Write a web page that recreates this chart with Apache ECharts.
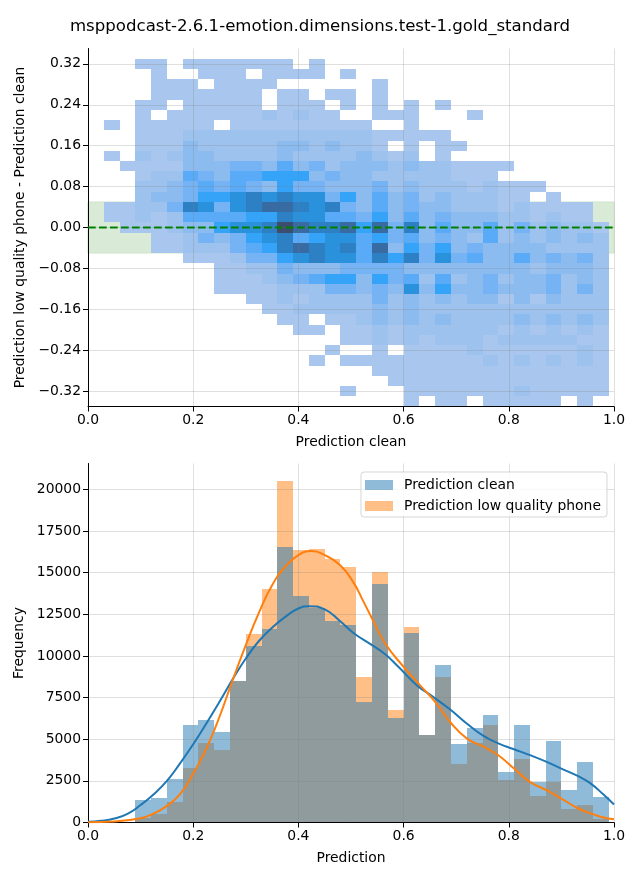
<!DOCTYPE html>
<html><head><meta charset="utf-8">
<script src="https://cdn.jsdelivr.net/npm/echarts@6/dist/echarts.min.js"></script>
<style>html,body{margin:0;padding:0;background:#fff}#c{width:640px;height:880px}</style>
</head><body><div id="c"></div>
<script>
const titleText = 'msppodcast-2.6.1-emotion.dimensions.test-1.gold_standard';
const binWidth = 0.03;
const cellHeight = 0.02;
const toleranceBand = [-0.05, 0.05];
const levelColors = ['', '#a9c7ee','#9ec2ee','#8cbbf0','#75b3f4','#59abf7','#34a3f8','#2a91dd','#2d80c3','#386ba2','#3d4d6d'];
const rowCenters = [0.32,0.30,0.28,0.26,0.24,0.22,0.20,0.18,0.16,0.14,0.12,0.10,0.08,0.06,0.04,0.02,0,-0.02,-0.04,-0.06,-0.08,-0.10,-0.12,-0.14,-0.16,-0.18,-0.20,-0.22,-0.24,-0.26,-0.28,-0.30,-0.32,-0.34];
const densityRows = [
[0,0,0,1,1,0,1,1,1,1,1,1,1,0,1],
[0,0,0,0,1,0,0,1,1,1,0,1,1,1,1,0,1],
[0,0,0,0,1,1,1,0,1,1,1,1,0,0,0,0,0,0,1],
[0,0,0,0,1,1,1,1,1,1,1,0,1,1,0,1,1,0,1],
[0,0,0,1,1,0,1,1,1,1,1,0,1,1,1,0,1,0,1,0,1,0,1],
[0,0,0,1,0,1,1,1,1,1,1,2,1,2,1,1,0,0,1,1,1,0,0,0,1],
[0,1,0,1,1,1,1,1,0,1,1,1,1,1,1,1,1,1,0,0,1],
[0,0,0,1,1,1,2,2,2,2,2,2,2,2,2,2,2,2,1,1,1,1,1],
[0,0,0,1,1,1,3,2,2,2,2,2,3,3,2,3,2,2,1,0,1,0,1,1],
[0,1,0,2,1,2,3,3,2,2,2,2,3,2,2,2,2,3,2,1,2,0,1],
[0,0,1,1,1,1,3,3,3,4,4,3,5,3,4,2,3,3,3,2,3,2,2,1,1,1,1],
[0,0,0,1,2,2,5,4,3,5,5,6,6,6,3,4,3,3,2,2,2,2,2,1,1,1],
[0,0,0,2,2,3,4,5,4,5,4,3,6,4,4,3,3,3,4,2,3,2,2,2,1,2,1,1,1],
[0,0,0,2,3,3,4,6,6,7,8,7,8,7,7,4,6,3,5,3,4,2,3,2,2,2,1,1,0,1],
[0,1,1,2,2,4,8,7,4,7,8,9,9,8,7,8,4,3,5,3,4,3,3,2,2,2,1,2,1,1,1,1],
[0,1,1,2,1,2,5,5,5,5,6,6,8,7,7,5,5,4,6,3,5,3,4,3,3,3,2,2,1,2,1,1],
[0,0,1,1,1,2,3,3,6,7,7,8,10,9,8,8,9,6,9,4,8,3,5,3,3,5,2,4,2,3,2,2,1],
[0,0,0,0,1,1,2,4,3,4,6,7,8,5,6,7,7,5,6,4,5,3,4,3,2,5,2,3,2,3,2,3,2],
[0,0,0,0,1,1,2,2,2,4,5,6,8,9,8,7,8,5,9,3,6,4,6,3,4,3,3,3,3,2,2,2,2],
[0,0,0,0,0,0,1,1,1,2,4,4,6,7,8,7,7,5,8,6,8,4,7,4,5,3,3,5,3,4,3,4,2],
[0,0,0,0,0,0,0,0,1,1,2,2,4,3,3,3,4,4,4,4,3,3,3,3,3,3,3,3,2,3,3,3,2],
[0,0,0,0,0,0,0,0,1,1,1,2,3,4,5,6,6,3,6,4,5,2,5,2,3,4,2,3,3,4,2,3,2],
[0,0,0,0,0,0,0,0,1,1,1,1,2,2,2,4,4,3,4,3,7,3,6,3,3,4,3,3,3,4,2,4,2],
[0,0,0,0,0,0,0,0,0,0,1,1,2,1,2,2,2,2,4,2,3,2,3,2,3,3,1,3,1,3,2,2,2],
[0,0,0,0,0,0,0,0,0,0,0,1,1,2,2,2,2,2,3,2,3,2,2,2,2,2,2,2,2,2,2,2,2],
[0,0,0,0,0,0,0,0,0,0,0,0,1,1,0,1,1,2,3,2,3,2,3,2,2,2,2,3,2,3,2,3,2],
[0,0,0,0,0,0,0,0,0,0,0,0,0,1,1,0,1,1,2,1,2,2,2,2,2,2,1,2,1,2,1,2,1],
[0,0,0,0,0,0,0,0,0,0,0,0,0,0,0,0,1,1,2,1,2,1,2,2,2,1,2,2,2,2,2,1,1],
[0,0,0,0,0,0,0,0,0,0,0,0,0,0,0,1,0,0,1,0,1,1,1,1,2,1,1,1,1,1,1,2,1],
[0,0,0,0,0,0,0,0,0,0,0,0,0,0,1,0,1,1,1,1,1,1,1,1,1,2,1,2,1,2,1,2,1],
[0,0,0,0,0,0,0,0,0,0,0,0,0,0,0,0,0,0,1,1,1,1,1,1,1,1,1,1,1,1,1,1,1],
[0,0,0,0,0,0,0,0,0,0,0,0,0,0,0,0,0,0,0,1,1,1,1,1,1,1,1,1,1,1,1,1,1],
[0,0,0,0,0,0,0,0,0,0,0,0,0,0,0,0,1,0,0,0,1,1,1,1,1,1,1,2,1,1,1,1,1],
[0,0,0,0,0,0,0,0,0,0,0,0,0,0,0,0,0,0,0,0,1,0,1,1,0,1,1,1,1,1,0,1]
];
const cleanCounts = [0,20,40,1340,1460,2600,5850,6150,5430,8490,10590,11610,16540,13590,12870,12090,11850,7230,14310,6270,11370,5240,9450,4700,5670,6450,3020,5850,2420,4880,1940,3620,1520];
const phoneCounts = [0,10,20,300,500,1220,3260,4760,4360,8490,11310,14010,20500,16360,16420,15820,15340,8730,15030,6750,11730,5240,8730,3500,4760,5850,2540,3800,1580,2420,800,1040,200];
const cleanKde = [[0,40],[0.025,100],[0.05,240],[0.075,520],[0.1,1050],[0.125,1700],[0.15,2500],[0.175,3550],[0.2,4700],[0.225,5950],[0.25,7250],[0.275,8600],[0.3,9850],[0.325,10900],[0.35,11700],[0.375,12350],[0.4,12850],[0.42,12990],[0.45,12800],[0.479,12100],[0.504,11400],[0.54,10650],[0.565,10100],[0.59,9350],[0.625,8250],[0.654,7590],[0.688,6800],[0.72,5950],[0.752,5200],[0.78,4750],[0.81,4400],[0.84,4050],[0.872,3640],[0.9,3240],[0.932,2780],[0.954,2380],[0.98,1680],[1,1080]];
const phoneKde = [[0,20],[0.05,60],[0.1,260],[0.125,540],[0.15,1000],[0.175,1700],[0.2,2940],[0.225,4440],[0.25,6350],[0.275,8550],[0.3,10650],[0.325,12600],[0.35,14250],[0.375,15360],[0.4,16060],[0.425,16300],[0.45,16060],[0.479,15460],[0.504,14450],[0.524,13250],[0.54,12250],[0.565,10750],[0.6,9350],[0.631,8250],[0.66,7250],[0.688,6050],[0.72,5050],[0.752,4550],[0.78,4040],[0.81,3240],[0.84,2440],[0.872,1940],[0.9,1440],[0.932,840],[0.96,500],[0.98,300],[1,200]];
const xTicks = [0,0.2,0.4,0.6,0.8,1];
const diffTicks = [-0.32,-0.24,-0.16,-0.08,0,0.08,0.16,0.24,0.32];
const freqTicks = [0,2500,5000,7500,10000,12500,15000,17500,20000];

const FONT = '"DejaVu Sans"';
const gridColor = 'rgba(128,128,128,0.25)';
function baseX(name, gap){
  return {type:'value',min:0,max:1,z:3,name,nameLocation:'middle',nameGap:gap,
    nameTextStyle:{fontFamily:FONT,fontSize:13.9,color:'#000'},
    axisLine:{show:true,onZero:false,lineStyle:{color:'#000',width:1}},
    axisTick:{show:true,length:5,customValues:xTicks,lineStyle:{color:'#000',width:1}},
    axisLabel:{customValues:xTicks,margin:7,fontFamily:FONT,fontSize:13.9,color:'#000',formatter:v=>v.toFixed(1)},
    splitLine:{show:true,lineStyle:{color:gridColor,width:1}}};
}
function baseY(name, gap, min, max, ticks, fmt){
  return {type:'value',min,max,z:3,name,nameLocation:'middle',nameGap:gap,
    nameTextStyle:{fontFamily:FONT,fontSize:13.9,color:'#000'},
    axisLine:{show:true,onZero:false,lineStyle:{color:'#000',width:1}},
    axisTick:{show:true,length:5,customValues:ticks,lineStyle:{color:'#000',width:1}},
    axisLabel:{customValues:ticks,margin:7,padding:[2,0,0,0],fontFamily:FONT,fontSize:13.9,color:'#000',formatter:fmt},
    splitLine:{show:true,lineStyle:{color:gridColor,width:1}}};
}
const cellData = [];
densityRows.forEach((row,r)=>row.forEach((lv,k)=>{ if(lv>0) cellData.push([k*binWidth, rowCenters[r], lv]); }));
function rectOf(api,x0,x1,y0,y1,style){
  const a = api.coord([x0,y1]), b = api.coord([x1,y0]);
  const X = Math.round(a[0]), Y = Math.round(a[1]);
  return {type:'rect',shape:{x:X,y:Y,width:Math.round(b[0])-X,height:Math.round(b[1])-Y},style};
}
function barSeries(name,counts,color,xi,z){
  return {type:'custom',name,xAxisIndex:xi,yAxisIndex:xi,z,clip:true,
    itemStyle:{color},
    encode:{x:0,y:1},
    data:counts.map((c,k)=>[k*binWidth,c]),
    renderItem:(p,api)=>rectOf(api,api.value(0),api.value(0)+binWidth,0,api.value(1),{fill:color})};
}
const chart = echarts.init(document.getElementById('c'),null,{renderer:'canvas'});
chart.setOption({
  animation:false,
  backgroundColor:'#fff',
  title:{text:titleText,left:315,top:13,textAlign:'center',textStyle:{fontFamily:FONT,fontSize:16.6,fontWeight:'normal',color:'#000'}},
  legend:{data:['Prediction clean','Prediction low quality phone'],orient:'vertical',left:361,top:472,icon:'rect',
    itemWidth:28,itemHeight:10,itemGap:7,padding:[6,6,4,4],borderColor:'rgba(204,204,204,0.8)',borderWidth:1,borderRadius:3,
    backgroundColor:'rgba(255,255,255,0.8)',selectedMode:false,
    textStyle:{fontFamily:FONT,fontSize:13.9,color:'#000',padding:[0,0,0,6]}},
  grid:[{left:88,right:26,top:48.5,height:358},{left:88,right:26,top:463.5,height:359}],
  xAxis:[{...baseX('Prediction clean',29),gridIndex:0},{...baseX('Prediction',29),gridIndex:1}],
  yAxis:[
    {...baseY('Prediction low quality phone - Prediction clean',55,-0.35,0.35,diffTicks,v=>v.toFixed(2).replace('-','\u2212')),gridIndex:0},
    {...baseY('Frequency',54,0,21560,freqTicks,v=>String(v)),gridIndex:1}
  ],
  series:[
    {type:'custom',name:'band',xAxisIndex:0,yAxisIndex:0,z:1,silent:true,data:[[0,toleranceBand[0],1,toleranceBand[1]]],encode:{x:0,y:1},
      renderItem:(p,api)=>rectOf(api,api.value(0),api.value(2),api.value(1),api.value(3),{fill:'#d9ead6',stroke:'#cfe5cb',lineWidth:1})},
    {type:'custom',name:'cells',xAxisIndex:0,yAxisIndex:0,z:2,silent:true,data:cellData,encode:{x:0,y:1},
      renderItem:(p,api)=>rectOf(api,api.value(0),api.value(0)+binWidth,api.value(1)-cellHeight/2,api.value(1)+cellHeight/2,{fill:levelColors[api.value(2)]})},
    {type:'line',name:'zero',xAxisIndex:0,yAxisIndex:0,z:5,silent:true,symbol:'none',data:[[0,0],[1,0]],lineStyle:{color:'#008000',width:2,type:[7.7,3.3]}},
    barSeries('Prediction low quality phone',phoneCounts,'rgba(255,127,14,0.5)',1,2),
    barSeries('Prediction clean',cleanCounts,'rgba(31,119,180,0.5)',1,2),
    {type:'line',name:'kdeClean',xAxisIndex:1,yAxisIndex:1,z:5,silent:true,symbol:'none',smooth:0.5,data:cleanKde,lineStyle:{color:'#1f77b4',width:2}},
    {type:'line',name:'kdePhone',xAxisIndex:1,yAxisIndex:1,z:6,silent:true,symbol:'none',smooth:0.5,data:phoneKde,lineStyle:{color:'#ff7f0e',width:2}}
  ]
});
</script></body></html>
